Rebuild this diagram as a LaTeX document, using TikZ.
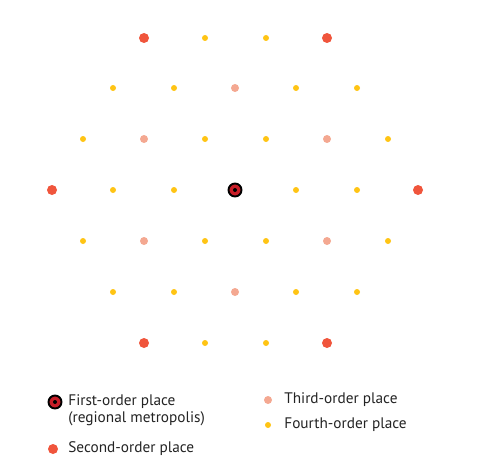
\documentclass[tikz,border=0pt]{standalone}
\usepackage{fontspec}
\setmainfont{PT Sans}
\usetikzlibrary{positioning}
\definecolor{firstred}{RGB}{200,30,40}
\definecolor{secondred}{RGB}{240,85,60}
\definecolor{thirdpink}{RGB}{244,168,145}
\definecolor{fourthyellow}{RGB}{255,196,20}
\definecolor{labelgrey}{RGB}{35,35,35}
\begin{document}
\begin{tikzpicture}
  [x=0.02cm,y=-0.02cm,
   every node/.style={circle,inner sep=0pt},
   first/.style={fill=firstred,draw=black,line width=1.1pt,minimum size=13*0.02cm},
   core/.style={fill=black,minimum size=4*0.02cm},
   second/.style={fill=secondred,minimum size=10*0.02cm},
   third/.style={fill=thirdpink,minimum size=8*0.02cm},
   fourth/.style={fill=fourthyellow,minimum size=6*0.02cm},
   lbl/.style={rectangle,font=\fontsize{8.7}{9.6}\selectfont,text=labelgrey,align=left,anchor=west}]
  \useasboundingbox (0,0) rectangle (482,466);

  % regional metropolis
  \node[first] (p1) at (235,190) {};
  \node[core] (p1c) at (235,190) {};

  % second-order places
  \node[second] (s1) at (144,38) {};
  \node[second] (s2) at (327,38) {};
  \node[second] (s3) at (52,190) {};
  \node[second] (s4) at (418,190) {};
  \node[second] (s5) at (144,343) {};
  \node[second] (s6) at (327,343) {};

  % third-order places
  \node[third] (t1) at (235,88) {};
  \node[third] (t2) at (144,139) {};
  \node[third] (t3) at (327,139) {};
  \node[third] (t4) at (144,241) {};
  \node[third] (t5) at (327,241) {};
  \node[third] (t6) at (235,292) {};

  % fourth-order places
  \foreach \x/\y [count=\k] in {205/38,266/38,
      113/88,174/88,296/88,357/88,
      83/139,205/139,266/139,388/139,
      113/190,174/190,296/190,357/190,
      83/241,205/241,266/241,388/241,
      113/292,174/292,296/292,357/292,
      205/343,266/343}
    \node[fourth] (f\k) at (\x,\y) {};

  % legend
  \node[first] (k1) at (55,402) {};
  \node[core] (k1c) at (55,402) {};
  \node[lbl] (k1t) at (68,410) {First-order place\\(regional metropolis)};
  \node[second] (k2) at (53,449) {};
  \node[lbl] (k2t) at (68,449) {Second-order place};
  \node[third] (k3) at (268,400) {};
  \node[lbl] (k3t) at (284,400) {Third-order place};
  \node[fourth] (k4) at (268,425) {};
  \node[lbl] (k4t) at (284,425) {Fourth-order place};

\end{tikzpicture}
\end{document}
